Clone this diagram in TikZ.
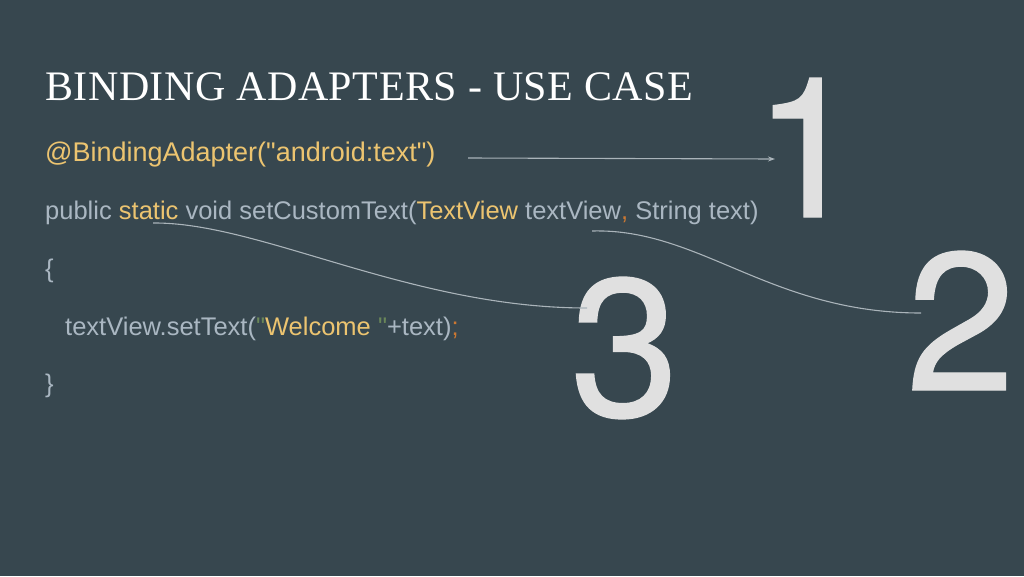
\documentclass[tikz,border=0pt]{standalone}
\usepackage{fontspec}
\setmainfont{Liberation Serif}
\newfontfamily\codefont{Liberation Sans}
\newfontfamily\digitfont[FakeBold=0.7]{TeX Gyre Heros}
\usetikzlibrary{arrows.meta}

\definecolor{slate}{RGB}{55,71,79}
\definecolor{codegrey}{RGB}{170,183,194}
\definecolor{codeyel}{RGB}{236,196,112}
\definecolor{codeorange}{RGB}{204,120,50}
\definecolor{codegreen}{RGB}{106,135,89}
\definecolor{digitgrey}{RGB}{224,224,224}
\definecolor{linkgrey}{RGB}{170,180,186}

\begin{document}
\begin{tikzpicture}[x=1pt,y=-1pt,
    code/.style={anchor=base west, inner sep=0pt, text=codegrey,
      font=\codefont\fontsize{25.5}{25.5}\selectfont},
    digit/.style={anchor=base west, inner sep=0pt, text=digitgrey,
      font=\digitfont\fontsize{196}{196}\selectfont},
    link/.style={linkgrey, line width=1.1pt}]
        \fill[slate] (0,0) rectangle (1024,576);
        \useasboundingbox (0,0) rectangle (1024,576);

        \node[anchor=base west, inner sep=0pt, text=white,
          font=\fontsize{42}{42}\selectfont\addfontfeatures{LetterSpace=1.2}] (title) at (45,100) {BINDING ADAPTERS - USE CASE};

        % code lines
        \node[code, text=codeyel, font=\codefont\fontsize{27}{27}\selectfont] (annot) at (45,161) {@BindingAdapter("android:text")};
        \node[code] (sig) at (45,219) {public {\color{codeyel}static} void setCustomText({\color{codeyel}TextView} textView{\color{codeorange},} String text)};
        \node[code] (open) at (45,277) {\{};
        \node[code] (body) at (65,335) {textView.setText({\color{codegreen}"}{\color{codeyel}Welcome }{\color{codegreen}"}+text){\color{codeorange};}};
        \node[code] (close) at (45,392) {\}};

        % big numbers
        \node[digit] (one) at (753,217) {1};
        \node[digit] (two) at (906,390) {2};
        \node[digit] (three) at (570,416) {3};

        \coordinate (s1) at (468,158);
        \coordinate (e1) at (775,159);
        \coordinate (s2) at (592,231);
        \coordinate (e2) at (921,313);
        \coordinate (s3) at (153,223);
        \coordinate (e3) at (587,308);

        \draw[link, -{Stealth[length=7pt,width=5pt]}] (s1) -- (e1);
        \draw[link] (s2) .. controls (700,228) and (770,313) .. (e2);
        \draw[link] (s3) .. controls (260,222) and (410,308) .. (e3);
    \end{tikzpicture}
\end{document}
